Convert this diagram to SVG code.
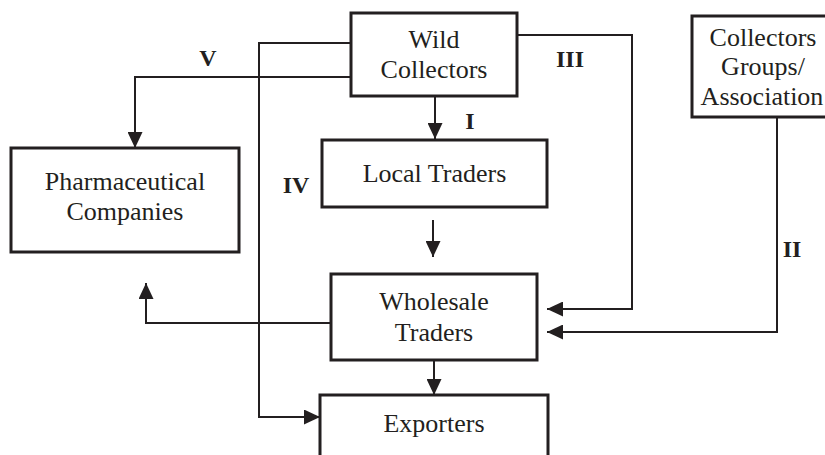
<svg xmlns="http://www.w3.org/2000/svg" width="825" height="455" viewBox="0 0 825 455">
  <style>
    .box { fill: #ffffff; stroke: #231f20; stroke-width: 3; }
    .lbl { font-family: "Liberation Serif", "Times New Roman", serif; font-size: 26px; fill: #231f20; text-anchor: middle; }
    .num { font-family: "Liberation Serif", "Times New Roman", serif; font-size: 24px; font-weight: bold; fill: #231f20; text-anchor: middle; }
    .conn { fill: none; stroke: #231f20; stroke-width: 2; }
  </style>
  <defs>
    <marker id="arrow" markerUnits="userSpaceOnUse" markerWidth="16" markerHeight="15" refX="16" refY="7.5" orient="auto">
      <path d="M0,0 L16,7.5 L0,15 z" fill="#231f20"/>
    </marker>
  </defs>
  <rect width="825" height="455" fill="#ffffff"/>

  <g id="connectors">
    <path class="conn" d="M435,96 V139" marker-end="url(#arrow)"/>
    <path class="conn" d="M433,220 V257" marker-end="url(#arrow)"/>
    <path class="conn" d="M434,360 V395" marker-end="url(#arrow)"/>
    <path class="conn" d="M517,35 H632 V309 H547" marker-end="url(#arrow)"/>
    <path class="conn" d="M777,117 V332 H547" marker-end="url(#arrow)"/>
    <path class="conn" d="M351,77 H135 V148" marker-end="url(#arrow)"/>
    <path class="conn" d="M351,43 H259 V417 H320" marker-end="url(#arrow)"/>
    <path class="conn" d="M331,323 H146 V283" marker-end="url(#arrow)"/>
    <text class="num" x="208" y="66">V</text>
    <text class="num" x="570" y="67">III</text>
    <text class="num" x="470" y="129">I</text>
    <text class="num" x="296" y="193">IV</text>
    <text class="num" x="792" y="257">II</text>
  </g>

  <g id="wild-collectors">
    <rect class="box" x="351" y="13" width="166" height="83"/>
    <text class="lbl" x="434" y="48">Wild</text>
    <text class="lbl" x="434" y="78">Collectors</text>
  </g>

  <g id="collectors-groups">
    <rect class="box" x="692" y="16" width="140" height="101"/>
    <text class="lbl" x="763" y="46">Collectors</text>
    <text class="lbl" x="763" y="75">Groups/</text>
    <text class="lbl" x="762" y="105">Association</text>
  </g>

  <g id="local-traders">
    <rect class="box" x="322" y="140" width="225" height="67"/>
    <text class="lbl" x="434.5" y="182">Local Traders</text>
  </g>

  <g id="pharmaceutical-companies">
    <rect class="box" x="11" y="148" width="228" height="104"/>
    <text class="lbl" x="125" y="190">Pharmaceutical</text>
    <text class="lbl" x="125" y="220">Companies</text>
  </g>

  <g id="wholesale-traders">
    <rect class="box" x="331" y="274" width="206" height="86"/>
    <text class="lbl" x="434" y="310">Wholesale</text>
    <text class="lbl" x="434" y="341">Traders</text>
  </g>

  <g id="exporters">
    <rect class="box" x="320" y="395" width="228" height="70"/>
    <text class="lbl" x="434" y="432">Exporters</text>
  </g>
</svg>
